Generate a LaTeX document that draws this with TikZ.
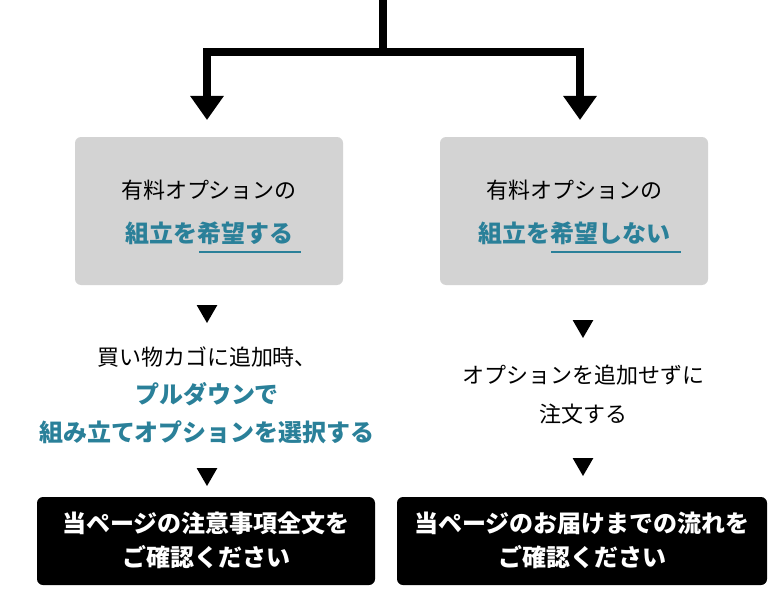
\documentclass[tikz,border=0pt]{standalone}
\usepackage{fontspec}
\setmainfont{Noto Sans CJK JP}
\usetikzlibrary{positioning,arrows.meta,shapes.geometric}
\definecolor{teal}{HTML}{2A8099}
\definecolor{boxgray}{HTML}{D3D3D3}
\tikzset{
  gray box/.style={fill=boxgray,rounded corners=6pt,minimum width=268pt,minimum height=148pt,inner sep=0pt},
  black box/.style={fill=black,rounded corners=6pt,inner sep=0pt},
  marker/.style={regular polygon,regular polygon sides=3,shape border rotate=180,fill=black,minimum size=24pt,inner sep=0pt},
  txt/.style={font=\fontsize{22pt}{26pt}\selectfont,inner sep=0pt},
  hi/.style={txt,text=teal,font=\fontsize{24pt}{28pt}\selectfont\bfseries},
  wtxt/.style={txt,text=white,font=\fontsize{24pt}{28pt}\selectfont\bfseries},
  big arrow/.style={line width=8pt,-{Triangle[width=32pt,length=24pt]}},
}
\begin{document}
\begin{tikzpicture}[x=1pt,y=-1pt]
\useasboundingbox (0,0) rectangle (780,594);
% flow from top
\coordinate (top) at (383,-2);
\coordinate (split) at (383,52);
\coordinate (tipL) at (207,120);
\coordinate (tipR) at (580,120);
\draw[big arrow] (top) -- (split) -| (tipL);
\draw[big arrow] (split) -| (tipR);

% left column
\node[gray box] (boxL) at (209,211) {};
\node[txt] (boxL1) at (209,190) {有料オプションの};
\node[hi] (boxL2) at (209,233) {組立を希望する};
\coordinate (ulL1) at (199,252);
\coordinate (ulL2) at (301,252);
\draw[teal,line width=1.2pt] (ulL1) -- (ulL2);
\node[marker] (mL1) at (207,311) {};
\node[txt] (tL1) at (207,357) {買い物カゴに追加時、};
\node[hi] (tL2) at (207,394) {プルダウンで};
\node[hi] (tL3) at (207,432) {組み立てオプションを選択する};
\node[marker] (mL2) at (207,474) {};
\node[black box,minimum width=338pt,minimum height=88pt] (resL) at (206,541) {};
\node[wtxt] (resL1) at (206,523) {当ページの注意事項全文を};
\node[wtxt] (resL2) at (206,557) {ご確認ください};

% right column
\node[gray box] (boxR) at (574,211) {};
\node[txt] (boxR1) at (574,190) {有料オプションの};
\node[hi] (boxR2) at (574,233) {組立を希望しない};
\coordinate (ulR1) at (551,252);
\coordinate (ulR2) at (681,252);
\draw[teal,line width=1.2pt] (ulR1) -- (ulR2);
\node[marker] (mR1) at (583,326) {};
\node[txt] (tR1) at (583,375) {オプションを追加せずに};
\node[txt] (tR2) at (583,414) {注文する};
\node[marker] (mR2) at (583,464) {};
\node[black box,minimum width=370pt,minimum height=88pt] (resR) at (582,541) {};
\node[wtxt] (resR1) at (582,523) {当ページのお届けまでの流れを};
\node[wtxt] (resR2) at (582,557) {ご確認ください};
\end{tikzpicture}
\end{document}
